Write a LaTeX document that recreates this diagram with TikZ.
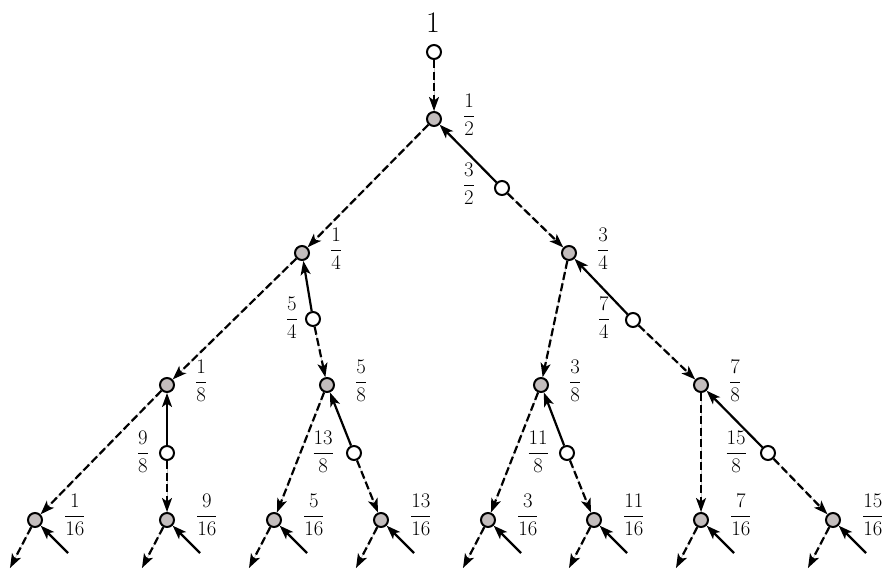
\documentclass[tikz,border=0pt]{standalone}
\usetikzlibrary{arrows.meta}
\definecolor{greyfill}{RGB}{195,189,189}
\begin{document}
\begin{tikzpicture}[x=1pt,y=-1pt,
  gnode/.style={circle,draw,line width=2pt,fill=greyfill,inner sep=0pt,minimum size=14pt},
  wnode/.style={circle,draw,line width=2pt,fill=white,inner sep=0pt,minimum size=14pt},
  tip/.style={-{Stealth[length=14pt,width=10pt,inset=3.5pt]}},
  dedge/.style={preaction={draw,black!22,line width=0.7pt,solid,-},line width=2.2pt,dash pattern=on 8pt off 3.5pt,tip},
  sedge/.style={line width=2.2pt,tip},
  lab/.style={inner sep=0pt,font=\fontsize{20.74}{24}\selectfont},
  glab/.style={lab,anchor=west},
  wlab/.style={lab,anchor=east}]
\useasboundingbox (0,0) rectangle (885,570);

% nodes
\node[wnode] (n1) at (434,52) {};
\node[inner sep=0pt,font=\fontsize{24.88}{28}\selectfont,scale=1.2] (t1) at (433,23) {$1$};
\node[gnode] (a) at (434,119) {};
\node[wnode] (b) at (502,188) {};
\node[gnode] (c) at (302,253) {};
\node[gnode] (d) at (569,253) {};
\node[wnode] (e) at (313,319) {};
\node[wnode] (f) at (633,320) {};
\node[gnode] (g1) at (167,385) {};
\node[gnode] (g5) at (327,385) {};
\node[gnode] (g3) at (541,385) {};
\node[gnode] (g7) at (701,385) {};
\node[wnode] (w9) at (167,453) {};
\node[wnode] (w13) at (354,453) {};
\node[wnode] (w11) at (567,453) {};
\node[wnode] (w15) at (768,453) {};
\foreach \n/\x in {h1/35,h9/167,h5/274,h13/381,h3/488,h11/594,h7/701,h15/833}{
  \node[gnode] (\n) at (\x,520) {};
  \coordinate (\n o) at (\x-25,568);
  \coordinate (\n i) at (\x+33,553);
}

% labels
\node[glab] (la) at ([shift={(29,-4)}]a.center) {$\displaystyle\frac{1}{2}$};
\node[glab] (lc) at ([shift={(28,-4)}]c.center) {$\displaystyle\frac{1}{4}$};
\node[glab] (ld) at ([shift={(28,-4)}]d.center) {$\displaystyle\frac{3}{4}$};
\node[glab] (lg1) at ([shift={(28,-4)}]g1.center) {$\displaystyle\frac{1}{8}$};
\node[glab] (lg5) at ([shift={(28,-4)}]g5.center) {$\displaystyle\frac{5}{8}$};
\node[glab] (lg3) at ([shift={(28,-4)}]g3.center) {$\displaystyle\frac{3}{8}$};
\node[glab] (lg7) at ([shift={(28,-4)}]g7.center) {$\displaystyle\frac{7}{8}$};
\foreach \n/\t in {h1/1,h9/9,h5/5,h13/13,h3/3,h11/11,h7/7,h15/15}{
  \node[glab] (l\n) at ([shift={(29,-5)}]\n.center) {$\displaystyle\frac{\t}{16}$};
}
\node[wlab] (lb) at (475,184) {$\displaystyle\frac{3}{2}$};
\node[wlab] (le) at (298,318) {$\displaystyle\frac{5}{4}$};
\node[wlab] (lf) at (610,318) {$\displaystyle\frac{7}{4}$};
\node[wlab] (lw9) at (149,452) {$\displaystyle\frac{9}{8}$};
\node[wlab] (lw13) at (334,452) {$\displaystyle\frac{13}{8}$};
\node[wlab] (lw11) at (549,452) {$\displaystyle\frac{11}{8}$};
\node[wlab] (lw15) at (747,452) {$\displaystyle\frac{15}{8}$};

% edges
\draw[dedge] (n1) -- (a);
\draw[dedge] (a) -- (c);
\draw[sedge] (b) -- (a);
\draw[dedge] (b) -- (d);
\draw[dedge] (c) -- (g1);
\draw[sedge] (e) -- (c);
\draw[dedge] (e) -- (g5);
\draw[dedge] (d) -- (g3);
\draw[sedge] (f) -- (d);
\draw[dedge] (f) -- (g7);
\draw[dedge] (g1) -- (h1);
\draw[sedge] (w9) -- (g1);
\draw[dedge] (w9) -- (h9);
\draw[dedge] (g5) -- (h5);
\draw[sedge] (w13) -- (g5);
\draw[dedge] (w13) -- (h13);
\draw[dedge] (g3) -- (h3);
\draw[sedge] (w11) -- (g3);
\draw[dedge] (w11) -- (h11);
\draw[dedge] (g7) -- (h7);
\draw[sedge] (w15) -- (g7);
\draw[dedge] (w15) -- (h15);
\foreach \n in {h1,h9,h5,h13,h3,h11,h7,h15}{
  \draw[dedge] (\n) -- (\n o);
  \draw[sedge] (\n i) -- (\n);
}
\end{tikzpicture}
\end{document}
